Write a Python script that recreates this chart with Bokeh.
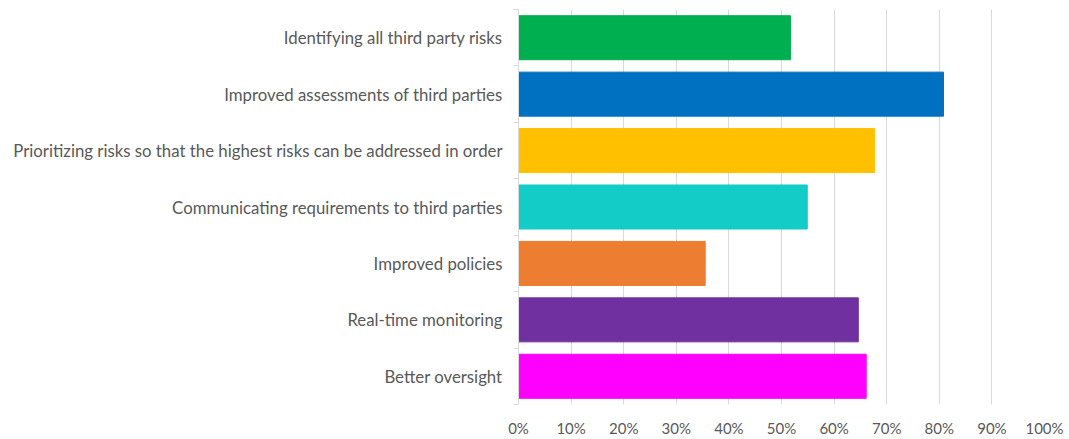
from bokeh.plotting import figure
from bokeh.models import ColumnDataSource, FixedTicker, NumeralTickFormatter, Range1d
from bokeh.embed import file_html
from bokeh.resources import INLINE

categories = [
    "Identifying all third party risks",
    "Improved assessments of third parties",
    "Prioritizing risks so that the highest risks can be addressed in order",
    "Communicating requirements to third parties",
    "Improved policies",
    "Real-time monitoring",
    "Better oversight",
]
values = [0.517, 0.808, 0.677, 0.549, 0.355, 0.646, 0.661]
colors = ["#00B050", "#0070C0", "#FFC000", "#13CCC8", "#ED7D31", "#7030A0", "#FF00FF"]
x_ticks = [0.0, 0.1, 0.2, 0.3, 0.4, 0.5, 0.6, 0.7, 0.8, 0.9, 1.0]

n = len(categories)
ypos = [n - i for i in range(n)]

src = ColumnDataSource(dict(y=ypos, v=values, c=colors))

p = figure(width=1069, height=439, output_backend="svg", toolbar_location=None,
           x_range=Range1d(0, 1), y_range=Range1d(0.5, n + 0.5),
           min_border_left=518, min_border_right=25, min_border_top=9, min_border_bottom=35)
p.hbar(y="y", left=0, right="v", height=0.78, color="c", source=src)

p.outline_line_color = None
p.background_fill_color = "white"
p.border_fill_color = "white"
p.ygrid.grid_line_color = None
p.xgrid.grid_line_color = "#d9d9d9"
p.xgrid.grid_line_width = 1

p.xaxis.ticker = FixedTicker(ticks=x_ticks)
p.xaxis.formatter = NumeralTickFormatter(format="0%")
p.xaxis.axis_line_color = None
p.xaxis.major_tick_line_color = None
p.xaxis.minor_tick_line_color = None
p.xaxis.major_tick_out = 0
p.xaxis.major_tick_in = 0
p.xaxis.minor_tick_out = 0
p.xaxis.major_label_text_font = "Lato"
p.xaxis.major_label_text_font_size = "15px"
p.xaxis.major_label_text_color = "#595959"
p.xaxis.major_label_standoff = 14

p.yaxis.ticker = FixedTicker(ticks=ypos, minor_ticks=[k + 0.5 for k in range(n + 1)])
p.yaxis.major_label_overrides = {y: c for y, c in zip(ypos, categories)}
p.yaxis.axis_line_color = "#d9d9d9"
p.yaxis.major_tick_line_color = None
p.yaxis.major_tick_out = 0
p.yaxis.major_tick_in = 0
p.yaxis.minor_tick_line_color = "#d9d9d9"
p.yaxis.minor_tick_out = 5
p.yaxis.minor_tick_in = 0
p.yaxis.major_label_text_font = "Lato"
p.yaxis.major_label_text_font_size = "16.8px"
p.yaxis.major_label_text_color = "#595959"
p.yaxis.major_label_standoff = 11

open("out.html", "w").write(file_html(p, INLINE))
